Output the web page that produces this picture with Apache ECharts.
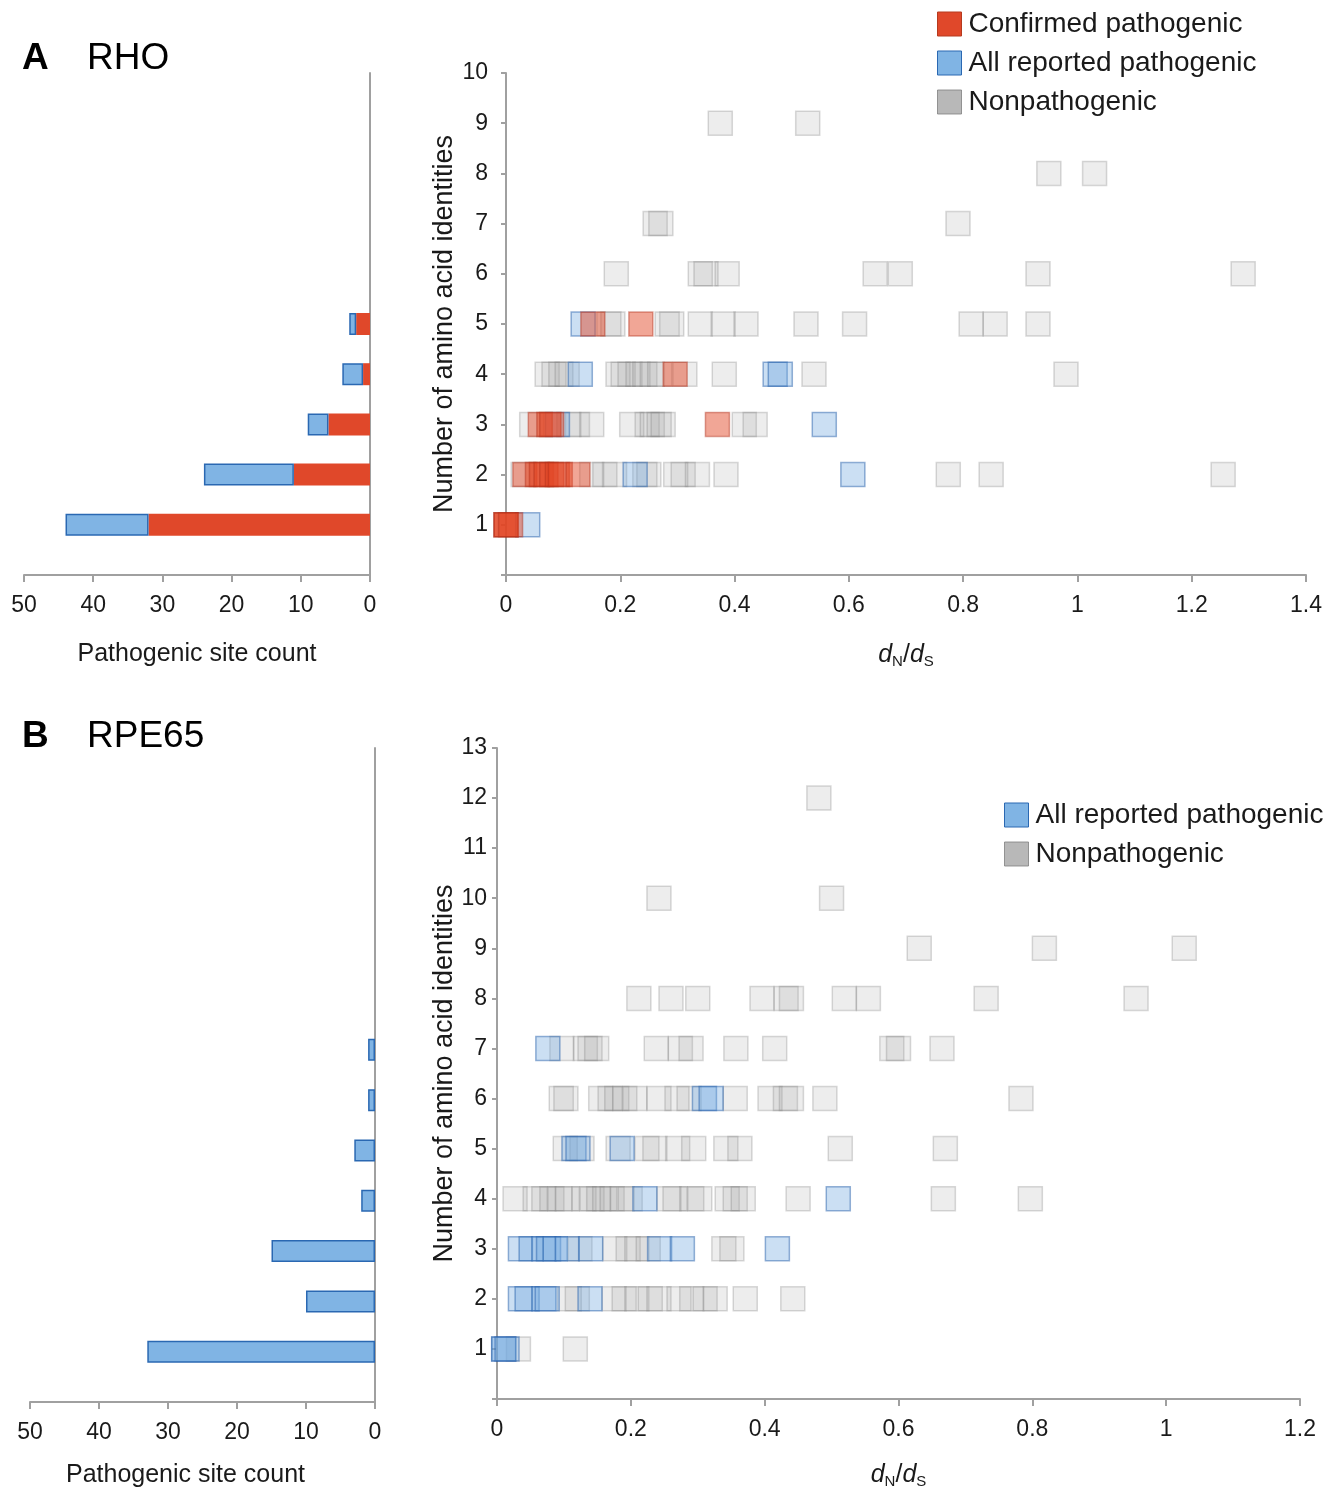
<!DOCTYPE html>
<html>
<head>
<meta charset="utf-8">
<script src="https://cdn.jsdelivr.net/npm/echarts@6/dist/echarts.min.js"></script>
<style>
html,body{margin:0;padding:0;background:#fff;}
#chart{width:1339px;height:1490px;}
</style>
</head>
<body>
<div id="chart"></div>
<script>
// ---------- DATA ----------
// Panel A (RHO): pathogenic site counts per number of amino acid identities
const rhoRows = [1, 2, 3, 4, 5];
const rhoConfirmedCount = [32, 11, 6, 1, 2];
const rhoAllReportedCount = [44, 24, 9, 4, 3];

// Panel B (RPE65)
const rpeRows = [1, 2, 3, 4, 5, 6, 7];
const rpeAllReportedCount = [33, 10, 15, 2, 3, 1, 1];

// Scatter points: [dN/dS, number of amino acid identities]
const rhoNonpathogenic = [
  [0.375,9],[0.528,9],
  [0.95,8],[1.03,8],
  [0.261,7],[0.271,7],[0.791,7],
  [0.193,6],[0.34,6],[0.35,6],[0.387,6],[0.646,6],[0.69,6],[0.931,6],[1.29,6],
  [0.18,5],[0.187,5],[0.282,5],[0.29,5],[0.34,5],[0.38,5],[0.42,5],[0.525,5],[0.61,5],[0.814,5],[0.856,5],[0.931,5],
  [0.072,4],[0.084,4],[0.096,4],[0.107,4],[0.196,4],[0.205,4],[0.217,4],[0.231,4],[0.243,4],[0.256,4],[0.269,4],[0.313,4],[0.382,4],[0.539,4],[0.98,4],
  [0.045,3],[0.11,3],[0.125,3],[0.15,3],[0.22,3],[0.247,3],[0.256,3],[0.268,3],[0.275,3],[0.417,3],[0.436,3],
  [0.03,2],[0.15,2],[0.173,2],[0.19,2],[0.243,2],[0.25,2],[0.297,2],[0.31,2],[0.335,2],[0.385,2],[0.774,2],[0.849,2],[1.255,2]
];
const rhoAllReported = [
  [0.135,5],
  [0.13,4],[0.471,4],[0.48,4],
  [0.09,3],[0.557,3],
  [0.226,2],[0.607,2],
  [0.038,1]
];
const rhoConfirmed = [
  [0.152,5],[0.236,5],
  [0.296,4],
  [0.06,3],[0.075,3],[0.08,3],[0.37,3],
  [0.033,2],[0.055,2],[0.062,2],[0.07,2],[0.08,2],[0.09,2],[0.095,2],[0.126,2],
  [0,1],[0,1],[0,1],[0.008,1]
];

const rpeNonpathogenic = [
  [0.481,12],
  [0.242,10],[0.50,10],
  [0.631,9],[0.818,9],[1.027,9],
  [0.212,8],[0.26,8],[0.30,8],[0.396,8],[0.432,8],[0.44,8],[0.519,8],[0.555,8],[0.731,8],[0.955,8],
  [0.097,7],[0.132,7],[0.139,7],[0.149,7],[0.238,7],[0.274,7],[0.29,7],[0.357,7],[0.415,7],[0.59,7],[0.60,7],[0.665,7],
  [0.096,6],[0.103,6],[0.155,6],[0.169,6],[0.179,6],[0.191,6],[0.206,6],[0.242,6],[0.269,6],[0.287,6],[0.356,6],[0.408,6],[0.431,6],[0.44,6],[0.49,6],[0.783,6],
  [0.102,5],[0.127,5],[0.181,5],[0.224,5],[0.236,5],[0.27,5],[0.294,5],[0.342,5],[0.363,5],[0.513,5],[0.67,5],
  [0.027,4],[0.057,4],[0.07,4],[0.082,4],[0.094,4],[0.105,4],[0.13,4],[0.142,4],[0.152,4],[0.161,4],[0.172,4],[0.187,4],[0.199,4],[0.257,4],[0.266,4],[0.291,4],[0.303,4],[0.344,4],[0.356,4],[0.368,4],[0.45,4],[0.667,4],[0.797,4],
  [0.124,3],[0.176,3],[0.196,3],[0.209,3],[0.226,3],[0.339,3],[0.351,3],
  [0.108,2],[0.12,2],[0.175,2],[0.19,2],[0.209,2],[0.229,2],[0.242,2],[0.272,2],[0.291,2],[0.311,2],[0.326,2],[0.371,2],[0.442,2],
  [0.032,1],[0.117,1]
];
const rpeAllReported = [
  [0.076,7],
  [0.31,6],[0.32,6],
  [0.115,5],[0.121,5],[0.187,5],
  [0.221,4],[0.51,4],
  [0.035,3],[0.051,3],[0.07,3],[0.077,3],[0.087,3],[0.105,3],[0.14,3],[0.243,3],[0.277,3],[0.419,3],
  [0.035,2],[0.045,2],[0.07,2],[0.075,2],[0.139,2],
  [0.01,1],[0.01,1],[0.015,1]
];

// Axis ranges / ticks
const rhoYMax = 10, rpeYMax = 13;
const rhoXMax = 1.4, rpeXMax = 1.2, dnDsStep = 0.2;
const countMax = 50, countStep = 10;

// ---------- STYLE ----------
const FONT = "'Liberation Sans', Arial, Helvetica, sans-serif";
const TXT = '#1a1a1a';
const AXC = '#a0a0a0';
const RED = '#e0482a', BLUE = '#80b4e4', BLUE_B = '#2a68b2', GREY = '#a6a6a6';

function rowCats(max){ const a=[]; for(let i=0;i<=max;i++) a.push(String(i)); return a; }
function barData(rows, vals, max){
  const a = new Array(max+1).fill('-');
  rows.forEach((r,i)=>{ a[r] = vals[i]; });
  return a;
}

const axisLineStyle = {show:true, onZero:false, lineStyle:{color:AXC, width:2}};
const axisTickStyle = {show:true, length:7, lineStyle:{color:AXC, width:2}};
const tickLabel = {fontSize:23, color:TXT, fontFamily:FONT};

const dndsRich = {
  i:{fontSize:25, fontStyle:'italic', fontFamily:FONT, color:TXT},
  s:{fontSize:15, fontFamily:FONT, color:TXT, padding:[13,0,0,0]},
  n:{fontSize:25, fontFamily:FONT, color:TXT}
};

const grids = [
  {left:24, top:73, width:346, height:502},
  {left:506, top:73, width:800, height:502},
  {left:30, top:748, width:345, height:654},
  {left:497, top:748, width:803, height:654}
];

function countAxis(gi, gap, lblMargin, pad){
  return {
    gridIndex:gi, type:'value', min:0, max:countMax, interval:countStep, inverse:true,
    axisLine:axisLineStyle, axisTick:axisTickStyle, splitLine:{show:false},
    axisLabel:Object.assign({margin:lblMargin}, tickLabel),
    name:'Pathogenic site count', nameLocation:'middle', nameGap:gap, nameMoveOverlap:false,
    nameTextStyle:{fontSize:25, color:TXT, fontFamily:FONT, padding:pad}
  };
}
function dndsAxis(gi, max, gap, lblMargin){
  return {
    gridIndex:gi, type:'value', min:0, max:max, interval:dnDsStep,
    axisLine:axisLineStyle, axisTick:axisTickStyle, splitLine:{show:false},
    axisLabel:Object.assign({margin:lblMargin}, tickLabel),
    name:'{i|d}{s|N}{n|/}{i|d}{s|S}', nameLocation:'middle', nameGap:gap, nameMoveOverlap:false,
    nameTextStyle:{rich:dndsRich, fontSize:25, color:TXT, fontFamily:FONT}
  };
}
function catAxis(gi, max){
  return {
    gridIndex:gi, type:'category', data:rowCats(max), boundaryGap:false, position:'right',
    axisLine:{show:true, onZero:false, lineStyle:{color:AXC, width:2}},
    axisTick:{show:false}, axisLabel:{show:false}, splitLine:{show:false}
  };
}
function idAxis(gi, max, gap, lblMargin){
  return {
    gridIndex:gi, type:'value', min:0, max:max, interval:1,
    axisLine:axisLineStyle, axisTick:{show:true, length:5, lineStyle:{color:AXC, width:2}}, splitLine:{show:false},
    axisLabel:Object.assign({margin:lblMargin, formatter:v=> v===0 ? '' : String(v)}, tickLabel),
    name:'Number of amino acid identities', nameLocation:'middle', nameGap:gap, nameRotate:90,
    nameMoveOverlap:false,
    nameTextStyle:{fontSize:27, color:TXT, fontFamily:FONT}
  };
}

const scatterGrey = {color:'rgba(165,165,165,0.25)', borderColor:'rgba(120,120,120,0.35)', borderWidth:1.5};
const scatterBlue = {color:'rgba(110,165,222,0.45)', borderColor:'rgba(35,95,170,0.6)', borderWidth:1.5};
const scatterRed = {color:'rgba(226,70,36,0.6)', borderColor:'rgba(175,45,25,0.55)', borderWidth:1.5};

function scat(name, data, gi, style){
  return {
    name:name, type:'scatter', xAxisIndex:gi, yAxisIndex:gi, data:data,
    symbol:'rect', symbolSize:24, itemStyle:style, clip:false, emphasis:{disabled:true}
  };
}

const legendText = {fontSize:28, color:TXT, fontFamily:FONT, lineHeight:24, padding:[0,0,0,2]};

const option = {
  animation:false,
  backgroundColor:'#fff',
  textStyle:{fontFamily:FONT},
  grid:grids,
  xAxis:[
    countAxis(0, 67, 19, [0,0,0,0]),
    dndsAxis(1, rhoXMax, 66, 19),
    countAxis(2, 61, 19, [0,34,0,0]),
    dndsAxis(3, rpeXMax, 62, 19)
  ],
  yAxis:[catAxis(0, rhoYMax), idAxis(1, rhoYMax, 48, 18), catAxis(2, rpeYMax), idAxis(3, rpeYMax, 39, 10)],
  legend:[
    {
      left:932, top:5, orient:'vertical', icon:'rect', itemWidth:24, itemHeight:24, itemGap:11,
      selectedMode:false, textStyle:legendText,
      data:[
        {name:'Confirmed pathogenic', itemStyle:{color:RED, borderColor:'#b63a1e', borderWidth:1}},
        {name:'All reported pathogenic', itemStyle:{color:BLUE, borderColor:BLUE_B, borderWidth:1}},
        {name:'Nonpathogenic', itemStyle:{color:GREY, borderColor:'#808080', borderWidth:1}}
      ]
    },
    {
      left:999, top:796, orient:'vertical', icon:'rect', itemWidth:24, itemHeight:24, itemGap:11,
      selectedMode:false, textStyle:legendText,
      data:[
        {name:'All reported pathogenic', itemStyle:{color:BLUE, borderColor:BLUE_B, borderWidth:1}},
        {name:'Nonpathogenic', itemStyle:{color:GREY, borderColor:'#808080', borderWidth:1}}
      ]
    }
  ],
  graphic:[
    {type:'text', left:22, top:40, style:{text:'A', fontSize:37, fontWeight:'bold', fontFamily:FONT, fill:'#000'}},
    {type:'text', left:87, top:40, style:{text:'RHO', fontSize:37, fontFamily:FONT, fill:'#000'}},
    {type:'text', left:22, top:718, style:{text:'B', fontSize:37, fontWeight:'bold', fontFamily:FONT, fill:'#000'}},
    {type:'text', left:87, top:718, style:{text:'RPE65', fontSize:37, fontFamily:FONT, fill:'#000'}}
  ],
  series:[
    // Panel A bars (stacked: confirmed + remaining reported)
    {
      name:'Confirmed pathogenic', type:'bar', xAxisIndex:0, yAxisIndex:0, stack:'rho',
      barWidth:22, data:barData(rhoRows, rhoConfirmedCount, rhoYMax),
      itemStyle:{color:RED}
    },
    {
      name:'All reported pathogenic', type:'bar', xAxisIndex:0, yAxisIndex:0, stack:'rho',
      barWidth:22,
      data:barData(rhoRows, rhoAllReportedCount.map((v,i)=>v - rhoConfirmedCount[i]), rhoYMax),
      itemStyle:{color:BLUE, borderColor:BLUE_B, borderWidth:1.5}
    },
    // Panel A scatter
    scat('Nonpathogenic', rhoNonpathogenic, 1, scatterGrey),
    scat('All reported pathogenic', rhoAllReported, 1, scatterBlue),
    scat('Confirmed pathogenic', rhoConfirmed, 1, scatterRed),
    // Panel B bars
    {
      name:'All reported pathogenic', type:'bar', xAxisIndex:2, yAxisIndex:2,
      barWidth:22, data:barData(rpeRows, rpeAllReportedCount, rpeYMax),
      itemStyle:{color:BLUE, borderColor:BLUE_B, borderWidth:1.5}
    },
    // Panel B scatter
    scat('Nonpathogenic', rpeNonpathogenic, 3, scatterGrey),
    scat('All reported pathogenic', rpeAllReported, 3, scatterBlue)
  ]
};

const chart = echarts.init(document.getElementById('chart'), null, {renderer:'canvas'});
chart.setOption(option);
</script>
</body>
</html>
